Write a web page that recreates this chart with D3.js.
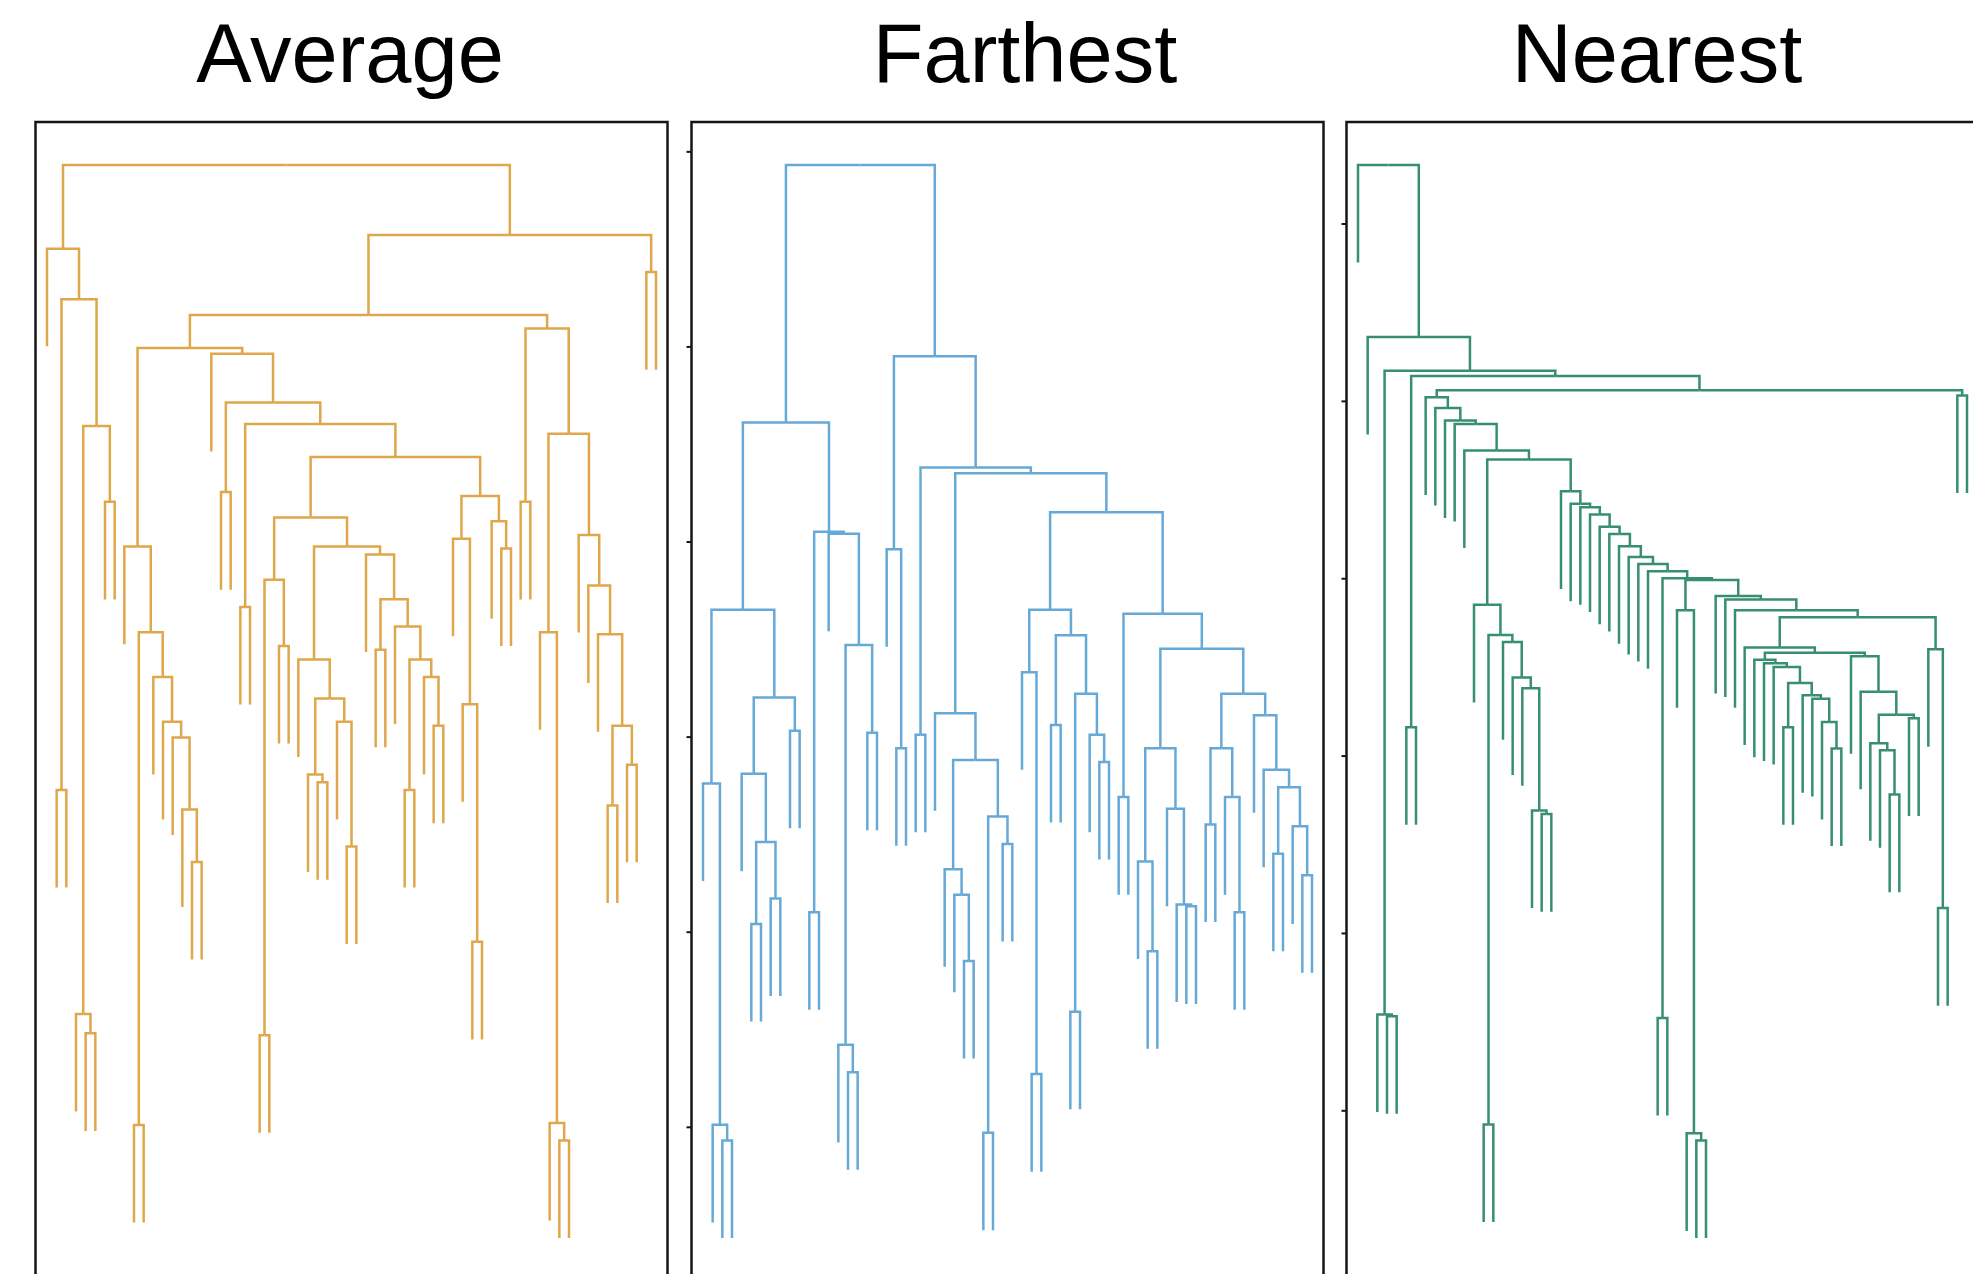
<!DOCTYPE html>
<html>
<head>
<meta charset="utf-8">
<script src="https://cdn.jsdelivr.net/npm/d3@7"></script>
<style>
  body { margin: 0; background: #fff; }
  svg { display: block; }
</style>
</head>
<body>
<div id="chart"></div>
<script>
// merge heights: a node is [height, left, right], a leaf is 0

// Average linkage
const avgLeft = [5.50, 0, [5.24, [2.72, 0, 0], [4.59, [1.57, 0, [1.47, 0, 0]], [4.20, 0, 0]]]];
const avgM1 = [3.97, 0, [3.53, [1.00, 0, 0], [3.30, 0, [3.07, 0, [2.99, 0, [2.62, 0, [2.35, 0, 0]]]]]]];
const avgY2a = [3.39, 0, [3.19, [2.80, 0, [2.76, 0, 0]], [3.07, 0, [2.43, 0, 0]]]];
const avgY2b = [3.93, 0, [3.70, [3.44, 0, 0], [3.56, 0, [3.39, [2.72, 0, 0], [3.30, 0, [3.05, 0, 0]]]]]];
const avgZ = [4.23, [4.01, 0, [3.16, 0, [1.94, 0, 0]]], [4.10, 0, [3.96, 0, 0]]];
const avgM2 = [4.96, 0, [4.71, [4.25, 0, 0], [4.60, [3.66, 0, 0], [4.43, [4.12, [3.80, [1.46, 0, 0], [3.46, 0, 0]], [3.97, avgY2a, avgY2b]], avgZ]]]];
const avgN = [5.09, [4.20, 0, 0], [4.55, [3.53, 0, [1.01, 0, [0.92, 0, 0]]], [4.03, 0, [3.77, 0, [3.52, 0, [3.05, [2.64, 0, 0], [2.85, 0, 0]]]]]]];
const averageTree = [5.93, avgLeft, [5.57, [5.16, [4.99, avgM1, avgM2], avgN], [5.38, 0, 0]]];

// Farthest (complete) linkage
const farL1 = [3.65, [2.76, 0, [1.01, 0, [0.93, 0, 0]]], [3.20, [2.81, 0, [2.46, [2.04, 0, 0], [2.17, 0, 0]]], [3.03, 0, 0]]];
const farL2 = [4.05, [2.10, 0, 0], [4.04, 0, [3.47, [1.42, 0, [1.28, 0, 0]], [3.02, 0, 0]]]];
const farD1 = [3.12, 0, [2.88, [2.32, 0, [2.19, 0, [1.85, 0, 0]]], [2.59, [0.97, 0, 0], [2.45, 0, 0]]]];
const farE1 = [3.65, [3.33, 0, [1.27, 0, 0]], [3.52, [3.06, 0, 0], [3.22, [1.59, 0, 0], [3.01, 0, [2.87, 0, 0]]]]];
const farF1 = [2.94, [2.36, 0, [1.90, 0, 0]], [2.63, 0, [2.14, 0, [2.13, 0, 0]]]];
const farF2 = [3.22, [2.94, [2.55, 0, 0], [2.69, 0, [2.10, 0, 0]]], [3.11, 0, [2.83, 0, [2.74, [2.40, 0, 0], [2.54, 0, [2.29, 0, 0]]]]]];
const farthestTree = [5.93, [4.61, farL1, farL2], [4.95, [3.96, 0, [2.94, 0, 0]], [4.38, [3.01, 0, 0], [4.35, farD1, [4.15, farE1, [3.63, [2.69, 0, 0], [3.45, farF1, farF2]]]]]]];

// Nearest (single) linkage
const nearG = [3.85, 0, [3.68, [0.92, 0, 0], [3.64, 0, [3.44, 0, [3.38, 0, [2.69, 0, [2.67, 0, 0]]]]]]];
const nearG3 = [3.54, 0, [3.52, 0, [3.50, 0, [3.41, [3.16, 0, 0], [3.34, 0, [3.32, 0, [3.19, 0, [3.04, 0, 0]]]]]]]];
const nearG11 = [3.56, 0, [3.36, 0, [3.23, [3.07, 0, [3.03, 0, [2.78, 0, 0]]], [3.21, 0, 0]]]];
const nearE = [3.90, 0, [3.88, 0, [3.82, 0, [3.78, [3.61, 0, [3.58, nearG3, nearG11]], [3.60, 0, [2.14, 0, 0]]]]]];
const nearA = [4.04, 0, [4.00, [1.52, 0, 0], [3.99, [3.82, 0, [0.87, 0, [0.83, 0, 0]]], nearE]]];
const nearS = [4.49, 0, [4.42, 0, [4.40, 0, [4.36, 0, [4.29, 0, [4.25, 0, [4.18, 0, [4.12, 0, [4.08, 0, nearA]]]]]]]]];
const nearN5 = [5.02, 0, [4.96, 0, [4.89, 0, [4.87, 0, [4.72, 0, [4.67, nearG, nearS]]]]]];
const nearestTree = [6.33, 0, [5.36, 0, [5.17, [1.54, 0, [1.53, 0, 0]], [5.14, [3.16, 0, 0], [5.06, nearN5, [5.03, 0, 0]]]]]];

const methods = ['Average', 'Farthest', 'Nearest'];
const trees = [averageTree, farthestTree, nearestTree];
const tickValues = [[], [1, 2, 3, 4, 5, 6], [1, 2, 3, 4, 5, 6]];

// styling / layout
const colors = ['#dfa74b', '#67a9d6', '#378e72'];
const W = 1973, H = 1274;
const panelX = [35.5, 691.5, 1346.5];
const panelW = 632, panelTop = 122;
const titleX = [350, 1025, 1657];
const plotTop = 165, plotBottom = 1238;
const leafPad = 11.5, leafSpan = 609;

var svg = d3.select('#chart').append('svg')
        .attr('width', W)
        .attr('height', H)

trees.forEach(function(tree, p){
    drawPanel(tree, p)
})

function drawPanel(tree, p){
    const root = d3.hierarchy(tree, function(d){ return Array.isArray(d) ? d.slice(1) : null })
    const merges = root.descendants().filter(function(d){ return d.children }).map(function(d){ return d.data[0] })
    const hmin = d3.min(merges), hmax = d3.max(merges)
    // leaves hang a tenth of the height range below their parent
    const hang = 0.1 * (hmax - hmin)

    const leaves = root.leaves()
    var xScale = d3.scaleLinear()
            .domain([0, leaves.length - 1])
            .range([panelX[p] + leafPad, panelX[p] + leafPad + leafSpan])
    var yScale = d3.scaleLinear()
            .domain([hmin - hang, hmax])
            .range([plotBottom, plotTop])

    leaves.forEach(function(d, i){ d.px = xScale(i) })
    root.eachAfter(function(d){
        if (d.children) d.px = d3.mean(d.children, function(c){ return c.px })
        d.h = d.children ? d.data[0] : d.parent.data[0] - hang
    })

    var g = svg.append('g').attr('class', 'panel')

    //title
    g.append('text')
            .attr('x', titleX[p])
            .attr('y', 82)
            .attr('text-anchor', 'middle')
            .style('font-family', '"Liberation Sans", Arial, Helvetica, sans-serif')
            .style('font-size', '83px')
            .style('fill', '#000')
            .text(methods[p])

    //frame, bottom edge falls outside the picture
    g.append('rect')
            .attr('x', panelX[p])
            .attr('y', panelTop)
            .attr('width', panelW)
            .attr('height', 1400)
            .style('fill', 'none')
            .style('stroke', '#151515')
            .style('stroke-width', 2.5)

    //height axis, marks only
    if (tickValues[p].length){
        var axis = g.append('g')
                .attr('transform', 'translate(' + panelX[p] + ',0)')
                .call(d3.axisLeft(yScale).tickValues(tickValues[p]).tickSize(5).tickFormat(''))
        axis.select('.domain').remove()
        axis.selectAll('line').style('stroke', '#151515').style('stroke-width', 2)
    }

    //branches: up from child, across to parent
    g.selectAll('path.link')
            .data(root.links())
        .enter().append('path')
            .attr('class', 'link')
            .attr('d', function(l){
                return 'M' + l.target.px + ',' + yScale(l.target.h) +
                       'V' + yScale(l.source.h) + 'H' + l.source.px
            })
            .style('fill', 'none')
            .style('stroke', colors[p])
            .style('stroke-width', 2.5)
}
</script>
</body>
</html>
